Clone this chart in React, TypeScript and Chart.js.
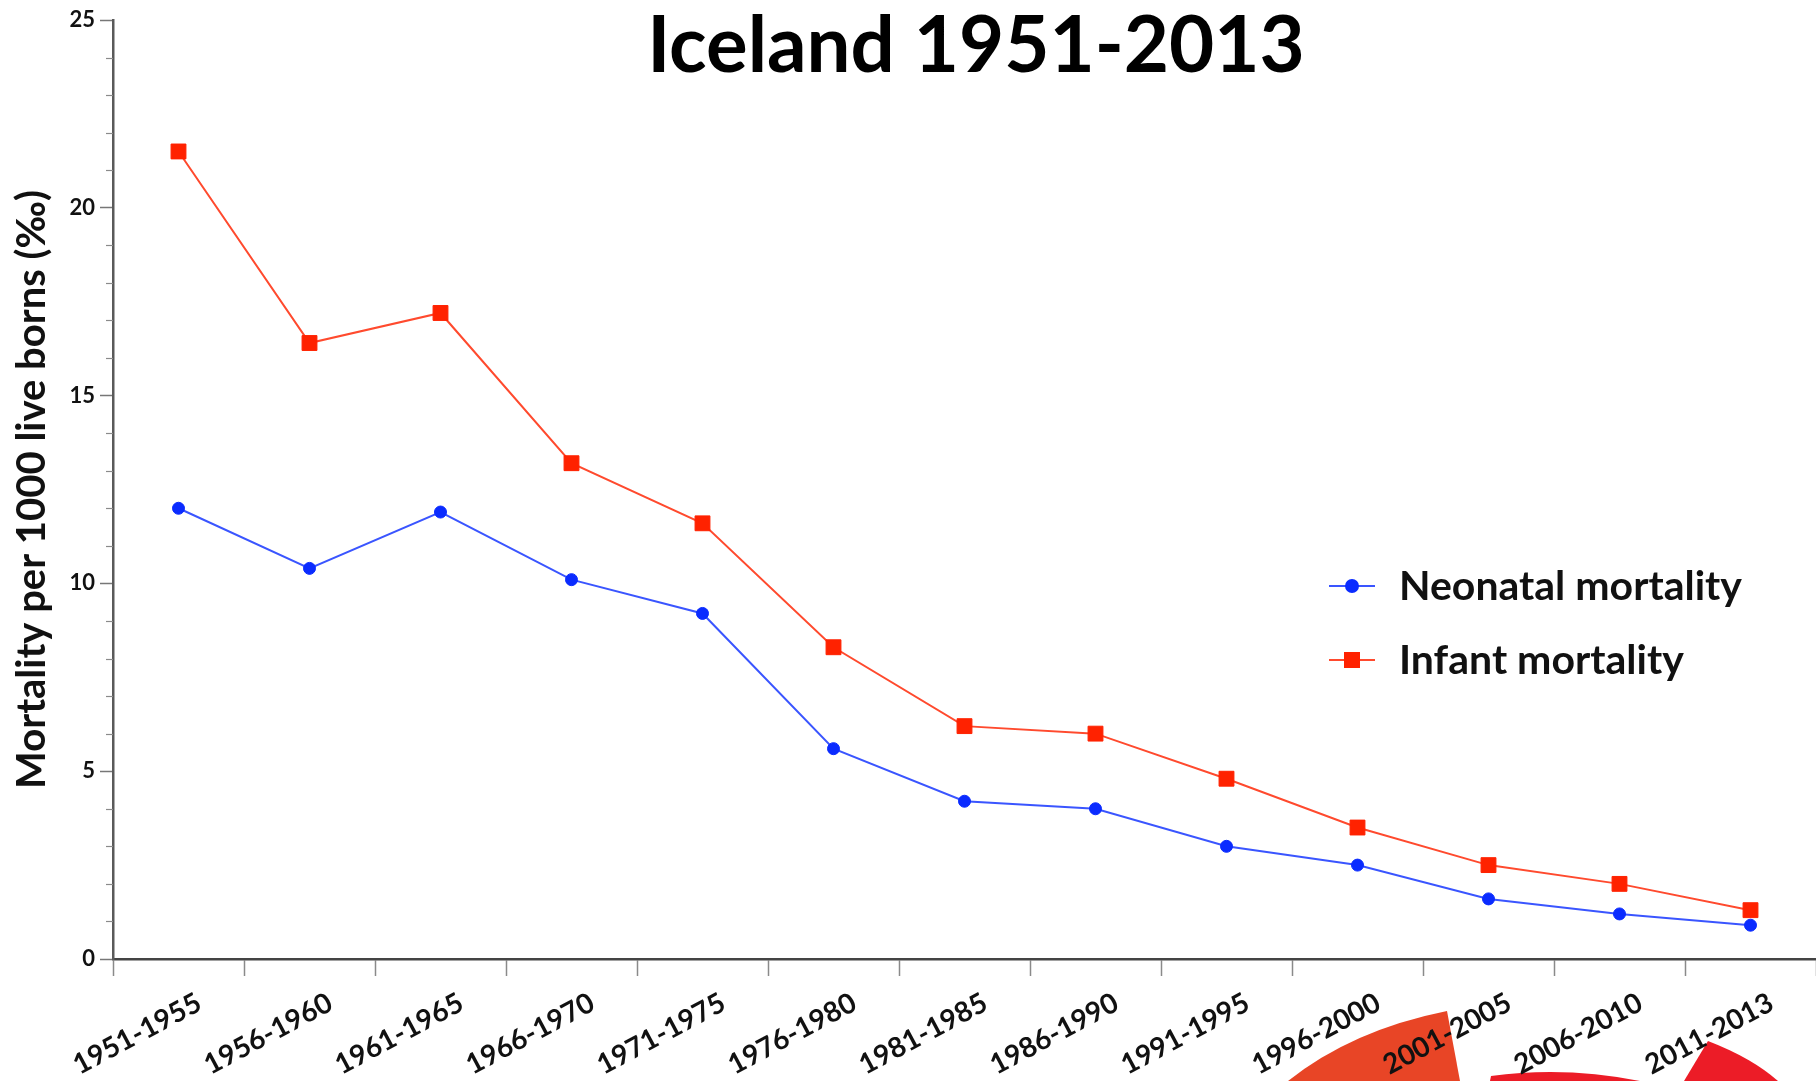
import React, { useEffect, useRef } from 'react';
import { Chart, registerables } from 'chart.js';

Chart.register(...registerables);

// ---- data ----
const categories = [
  '1951-1955', '1956-1960', '1961-1965', '1966-1970', '1971-1975', '1976-1980',
  '1981-1985', '1986-1990', '1991-1995', '1996-2000', '2001-2005', '2006-2010', '2011-2013',
];
const neonatalMortality = [12.0, 10.4, 11.9, 10.1, 9.2, 5.6, 4.2, 4.0, 3.0, 2.5, 1.6, 1.2, 0.9];
const infantMortality = [21.5, 16.4, 17.2, 13.2, 11.6, 8.3, 6.2, 6.0, 4.8, 3.5, 2.5, 2.0, 1.3];
const seriesNames = ['Neonatal mortality', 'Infant mortality'];
const chartTitle = 'Iceland 1951-2013';
const yAxisTitle = 'Mortality per 1000 live borns (‰)';
const yMin = 0;
const yMax = 25;
const yMajorStep = 5;
const yMinorStep = 1;

const FONT = 'Lato';
const X_LABEL_ANGLE = 28;

const minorTicksPlugin = {
  id: 'minorTicks',
  afterDraw(chart: any) {
    const y = chart.scales.y;
    const ctx = chart.ctx;
    ctx.save();
    ctx.strokeStyle = '#8a8a8a';
    ctx.lineWidth = 1.2;
    for (let v = yMin; v <= yMax; v += yMinorStep) {
      if (v % yMajorStep === 0) continue;
      const py = Math.round(y.getPixelForValue(v)) + 0.5;
      ctx.beginPath();
      ctx.moveTo(y.right - 7, py);
      ctx.lineTo(y.right, py);
      ctx.stroke();
    }
    ctx.restore();
  },
};

// category labels drawn along the library's x scale, rotated
const xLabelsPlugin = {
  id: 'xLabels',
  afterDraw(chart: any) {
    const xs = chart.scales.x;
    const ctx = chart.ctx;
    const a = (X_LABEL_ANGLE * Math.PI) / 180;
    ctx.save();
    ctx.font = `bold 28px ${FONT}`;
    ctx.fillStyle = '#111';
    ctx.textAlign = 'right';
    ctx.textBaseline = 'alphabetic';
    categories.forEach((lab, i) => {
      const px = xs.getPixelForTick(i) + 25;
      const py = xs.top + 50;
      ctx.save();
      ctx.translate(px, py);
      ctx.rotate(-a);
      ctx.fillText(lab, 0, 0);
      ctx.restore();
    });
    ctx.restore();
  },
};

const titlePlugin = {
  id: 'innerTitle',
  afterDraw(chart: any) {
    const ctx = chart.ctx;
    ctx.save();
    ctx.font = `bold 78px ${FONT}`;
    ctx.fillStyle = '#000';
    ctx.textAlign = 'center';
    ctx.textBaseline = 'alphabetic';
    ctx.fillText(chartTitle, 976, 72);
    ctx.restore();
  },
};

const legendPlugin = {
  id: 'innerLegend',
  afterDraw(chart: any) {
    const ctx = chart.ctx;
    ctx.save();
    chart.data.datasets.forEach((ds: any, i: number) => {
      const cy = 586 + i * 74;
      ctx.strokeStyle = ds.borderColor;
      ctx.lineWidth = 2;
      ctx.beginPath();
      ctx.moveTo(1329, cy);
      ctx.lineTo(1375, cy);
      ctx.stroke();
      ctx.fillStyle = ds.pointBackgroundColor;
      if (ds.pointStyle === 'rect') {
        ctx.fillRect(1352 - 8, cy - 8, 16, 16);
      } else {
        ctx.beginPath();
        ctx.arc(1352, cy, 7, 0, Math.PI * 2);
        ctx.fill();
      }
      ctx.fillStyle = '#111';
      ctx.font = `bold 41px ${FONT}`;
      ctx.textAlign = 'left';
      ctx.textBaseline = 'alphabetic';
      ctx.fillText(ds.label, 1399, cy + 14);
    });
    ctx.restore();
  },
};

const logoPlugin = {
  id: 'logoFragments',
  beforeDraw(chart: any) {
    const ctx = chart.ctx;
    ctx.save();
    ctx.fillStyle = '#e84526';
    ctx.beginPath();
    ctx.moveTo(1288, 1081);
    ctx.quadraticCurveTo(1352, 1030, 1447, 1011);
    ctx.lineTo(1460, 1081);
    ctx.closePath();
    ctx.fill();
    ctx.fillStyle = '#ec1c27';
    ctx.beginPath();
    ctx.moveTo(1490, 1081);
    ctx.lineTo(1491, 1076);
    ctx.quadraticCurveTo(1565, 1066, 1640, 1081);
    ctx.closePath();
    ctx.fill();
    ctx.beginPath();
    ctx.moveTo(1684, 1081);
    ctx.lineTo(1708, 1041);
    ctx.quadraticCurveTo(1752, 1058, 1778, 1081);
    ctx.closePath();
    ctx.fill();
    ctx.restore();
  },
};

export default function App() {
  const canvasRef = useRef<HTMLCanvasElement | null>(null);

  useEffect(() => {
    const canvas = canvasRef.current;
    if (!canvas) return;
    const chart = new Chart(canvas, {
      type: 'line',
      data: {
        labels: categories,
        datasets: [
          {
            label: seriesNames[0],
            data: neonatalMortality,
            borderColor: '#3a55ff',
            backgroundColor: '#0a2bff',
            pointBackgroundColor: '#0a2bff',
            pointBorderColor: '#0a2bff',
            pointStyle: 'circle',
            pointRadius: 6,
            pointBorderWidth: 1,
            borderWidth: 2,
            tension: 0,
          },
          {
            label: seriesNames[1],
            data: infantMortality,
            borderColor: '#ff4a2e',
            backgroundColor: '#ff2200',
            pointBackgroundColor: '#ff2200',
            pointBorderColor: '#ff2200',
            pointStyle: 'rect',
            pointRadius: 10.5,
            pointBorderWidth: 1,
            borderWidth: 2,
            tension: 0,
          },
        ],
      },
      options: {
        responsive: false,
        animation: false,
        devicePixelRatio: 1,
        events: [],
        layout: { autoPadding: false, padding: { top: 20, left: 0, right: 0, bottom: 0 } },
        plugins: {
          legend: { display: false },
          title: { display: false },
          tooltip: { enabled: false },
        },
        scales: {
          x: {
            type: 'category',
            offset: true,
            grid: {
              offset: true,
              drawOnChartArea: false,
              drawTicks: true,
              tickLength: 17,
              tickColor: '#8a8a8a',
              tickWidth: 1.5,
            },
            border: { display: true, color: '#444', width: 2.5 },
            ticks: { autoSkip: false, display: false },
            afterFit(scale: any) {
              scale.height = 122;
              scale.paddingLeft = 0;
              scale.paddingRight = 0;
            },
          },
          y: {
            min: yMin,
            max: yMax,
            grid: {
              drawOnChartArea: false,
              drawTicks: true,
              tickLength: 13,
              tickColor: '#777',
              tickWidth: 1.5,
            },
            border: { display: true, color: '#5a5a5a', width: 2.5 },
            ticks: {
              stepSize: yMajorStep,
              padding: 5,
              color: '#111',
              font: { family: FONT, size: 22, weight: 'bold' },
            },
            title: {
              display: true,
              text: yAxisTitle,
              color: '#111',
              font: { family: FONT, size: 40, weight: 'bold' },
              padding: { top: 8, bottom: 0 },
            },
            afterFit(scale: any) {
              scale.width = 113;
              scale.paddingTop = 0;
              scale.paddingBottom = 0;
            },
          },
        },
      },
      plugins: [logoPlugin, minorTicksPlugin, xLabelsPlugin, titlePlugin, legendPlugin],
    } as any);
    return () => chart.destroy();
  }, []);

  return (
    <div style={{ position: 'fixed', left: 0, top: 0, width: 1816, height: 1081, background: '#fff' }}>
      <canvas ref={canvasRef} width={1816} height={1081} style={{ display: 'block' }} />
    </div>
  );
}
